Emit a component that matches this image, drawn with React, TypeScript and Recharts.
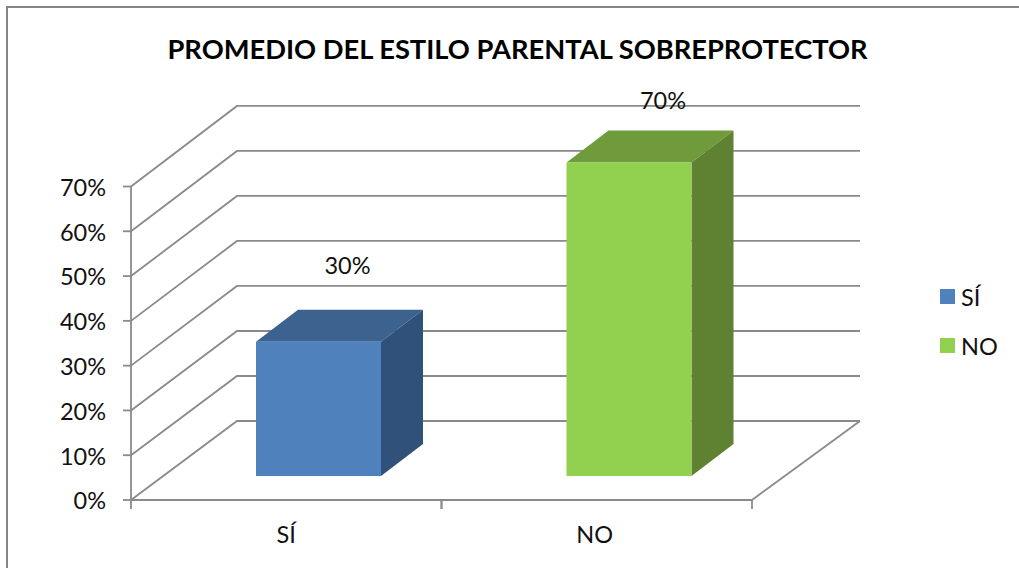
import { BarChart, Bar, XAxis, YAxis, CartesianGrid, Legend, LabelList } from "recharts";

const categories = ["SÍ", "NO"];
const values = [0.3, 0.7];
const yTicks = [0, 0.1, 0.2, 0.3, 0.4, 0.5, 0.6, 0.7];

const FRONT_COLORS = ["#4F81BD", "#92D050"];
const TOP_COLORS = ["#3C628F", "#6F9B3D"];
const SIDE_COLORS = ["#30527A", "#5E8231"];

const data = categories.map((name, i) => ({ name, value: values[i] }));

const WIDTH = 1019;
const HEIGHT = 568;
const PLOT_LEFT = 131;
const PLOT_RIGHT = 752;
const PLOT_TOP = 186.5;
const PLOT_BOTTOM = 500;
const BAND = (PLOT_RIGHT - PLOT_LEFT) / categories.length;

// fake 3d: wall depth, bar depth and how far the bars sit back on the floor
const WALL_DX = 106;
const WALL_BOTTOM = 421;
const WALL_SCALE = 1.005;
const BAR_DX = 42;
const BAR_DY = -32;
const FLOOR_DX = 32;
const FLOOR_DY = -24;

const AXIS_COLOR = "#8A8A8A";
const AXIS_WIDTH = 1.8;
const TEXT_COLOR = "#111";
const FONT = "Lato, sans-serif";

const pct = (v: number) => `${Math.round(v * 100)}%`;

function WallLine(props: any) {
  const { y1 } = props;
  const backY = WALL_BOTTOM - (PLOT_BOTTOM - y1) * WALL_SCALE;
  const isFloor = Math.abs(y1 - PLOT_BOTTOM) < 0.5;
  return (
    <g fill="none" stroke={AXIS_COLOR} strokeWidth={AXIS_WIDTH}>
      <polyline points={`${PLOT_LEFT},${y1} ${PLOT_LEFT + WALL_DX},${backY} ${PLOT_RIGHT + WALL_DX + 2},${backY}`} />
      {isFloor && <line x1={PLOT_RIGHT} y1={y1} x2={PLOT_RIGHT + WALL_DX + 2} y2={backY} />}
    </g>
  );
}

function Box3D(props: any) {
  const { x, y, width, height, index } = props;
  const left = x + FLOOR_DX;
  const top = y + FLOOR_DY;
  const right = left + width;
  const bottom = top + height;
  return (
    <g>
      <polygon
        points={`${left},${top} ${left + BAR_DX},${top + BAR_DY} ${right + BAR_DX},${top + BAR_DY} ${right},${top}`}
        fill={TOP_COLORS[index]}
      />
      <polygon
        points={`${right},${top} ${right + BAR_DX},${top + BAR_DY} ${right + BAR_DX},${bottom + BAR_DY} ${right},${bottom}`}
        fill={SIDE_COLORS[index]}
      />
      <rect x={left} y={top} width={width} height={height} fill={FRONT_COLORS[index]} />
    </g>
  );
}

function BarValueLabel(props: any) {
  const { x, y, width, value, index } = props;
  // the two labels were placed by hand in the original, not at the same distance
  const dx = index === 0 ? 61 : 66;
  const dy = index === 0 ? -92 : -78;
  return (
    <text x={x + width / 2 + dx} y={y + dy} textAnchor="middle" fontFamily={FONT} fontSize={23.5} fill={TEXT_COLOR}>
      {pct(value)}
    </text>
  );
}

function CategoryTick(props: any) {
  const { x, payload, index } = props;
  return (
    <g>
      <line x1={x - BAND / 2} y1={PLOT_BOTTOM} x2={x - BAND / 2} y2={PLOT_BOTTOM + 9} stroke={AXIS_COLOR} strokeWidth={AXIS_WIDTH} />
      <line x1={x + BAND / 2} y1={PLOT_BOTTOM} x2={x + BAND / 2} y2={PLOT_BOTTOM + 9} stroke={AXIS_COLOR} strokeWidth={AXIS_WIDTH} />
      <text x={index === 1 ? x - 2 : x} y={PLOT_BOTTOM + 43} textAnchor="middle" fontFamily={FONT} fontSize={23.5} fill={TEXT_COLOR}>
        {payload.value}
      </text>
    </g>
  );
}

function LegendBox() {
  return (
    <div style={{ fontFamily: FONT, fontSize: 23.5, color: TEXT_COLOR }}>
      {categories.map((name, i) => (
        <div key={name} style={{ display: "flex", alignItems: "center", height: 49 }}>
          <span style={{ width: 15, height: 15, background: FRONT_COLORS[i], marginRight: 6 }} />
          {name}
        </div>
      ))}
    </div>
  );
}

export default function App() {
  return (
    <div style={{ position: "absolute", left: 0, top: 0, width: WIDTH, height: HEIGHT, overflow: "hidden", background: "#fff" }}>
      <div
        style={{
          position: "absolute",
          left: 6,
          top: 6,
          width: WIDTH,
          height: HEIGHT,
          borderLeft: "2px solid #868686",
          borderTop: "2px solid #868686",
        }}
      />
      <div
        style={{
          position: "absolute",
          left: 0,
          top: 32,
          width: 1035,
          textAlign: "center",
          fontFamily: FONT,
          fontWeight: 700,
          fontSize: 27.3,
          color: "#000",
          whiteSpace: "nowrap",
        }}
      >
        PROMEDIO DEL ESTILO PARENTAL SOBREPROTECTOR
      </div>
      <BarChart
        width={WIDTH}
        height={HEIGHT}
        data={data}
        margin={{ top: PLOT_TOP, right: WIDTH - PLOT_RIGHT, bottom: 0, left: PLOT_LEFT - 80 }}
        style={{ position: "absolute", left: 0, top: 0 }}
      >
        <CartesianGrid vertical={false} horizontal={(p: any) => <WallLine key={p.key ?? p.y1} {...p} />} />
        <XAxis
          dataKey="name"
          height={HEIGHT - PLOT_BOTTOM}
          axisLine={{ stroke: AXIS_COLOR, strokeWidth: AXIS_WIDTH }}
          tickLine={false}
          tick={<CategoryTick />}
        />
        <YAxis
          width={80}
          domain={[0, 0.7]}
          ticks={yTicks}
          tickFormatter={pct}
          interval={0}
          axisLine={{ stroke: AXIS_COLOR, strokeWidth: AXIS_WIDTH }}
          tickLine={{ stroke: AXIS_COLOR, strokeWidth: AXIS_WIDTH }}
          tickSize={8}
          tickMargin={17}
          tick={{ fontFamily: FONT, fontSize: 23.5, fill: TEXT_COLOR, dy: 1 }}
        />
        <Legend
          layout="vertical"
          align="center"
          verticalAlign="middle"
          content={<LegendBox />}
          wrapperStyle={{ left: 940, top: 272, width: 75, bottom: "auto" }}
        />
        <Bar dataKey="value" barSize={125} shape={<Box3D />} isAnimationActive={false} legendType="none">
          <LabelList dataKey="value" content={<BarValueLabel />} />
        </Bar>
      </BarChart>
    </div>
  );
}
